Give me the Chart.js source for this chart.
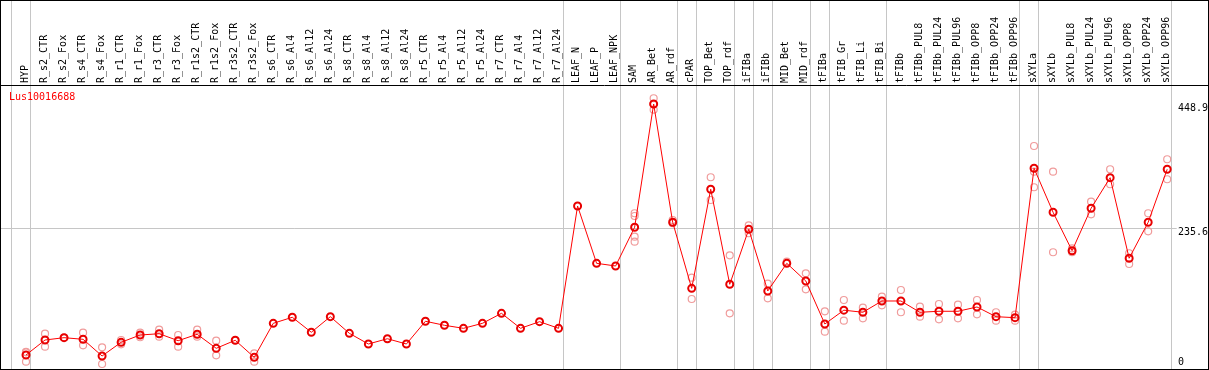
<!DOCTYPE html>
<html>
<head>
<meta charset="utf-8">
<script src="https://cdn.jsdelivr.net/npm/chart.js@4"></script>
<style>
  html, body { margin: 0; padding: 0; background: #fff; }
  canvas { display: block; }
</style>
</head>
<body>
<canvas id="geneChart" width="1209" height="370"></canvas>
<script>
const geneName = "Lus10016688";

const samples = [
  "HYP", "R_s2_CTR", "R_s2_Fox", "R_s4_CTR", "R_s4_Fox", "R_r1_CTR", "R_r1_Fox",
  "R_r3_CTR", "R_r3_Fox", "R_r1s2_CTR", "R_r1s2_Fox", "R_r3s2_CTR", "R_r3s2_Fox",
  "R_s6_CTR", "R_s6_Al4", "R_s6_Al12", "R_s6_Al24", "R_s8_CTR", "R_s8_Al4",
  "R_s8_Al12", "R_s8_Al24", "R_r5_CTR", "R_r5_Al4", "R_r5_Al12", "R_r5_Al24",
  "R_r7_CTR", "R_r7_Al4", "R_r7_Al12", "R_r7_Al24", "LEAF_N", "LEAF_P", "LEAF_NPK",
  "SAM", "AR_Bet", "AR_rdf", "cPAR", "TOP_Bet", "TOP_rdf", "iFIBa", "iFIBb",
  "MID_Bet", "MID_rdf", "tFIBa", "tFIB_Gr", "tFIB_Li", "tFIB_Bi", "tFIBb",
  "tFIBb_PUL8", "tFIBb_PUL24", "tFIBb_PUL96", "tFIBb_OPP8", "tFIBb_OPP24", "tFIBb_OPP96",
  "sXYLa", "sXYLb", "sXYLb_PUL8", "sXYLb_PUL24", "sXYLb_PUL96", "sXYLb_OPP8",
  "sXYLb_OPP24", "sXYLb_OPP96"
];

// mean expression per sample
const means = [
  17.2, 43.0, 47.0, 44.2, 15.5, 39.0, 51.6,
  53.8, 41.8, 52.8, 28.7, 42.5, 13.2,
  71.7, 82.1, 56.3, 83.1, 54.5, 36.1,
  45.2, 36.1, 75.2, 68.3, 63.1, 71.7,
  88.9, 63.1, 74.5, 63.1, 273.5, 174.9, 170.3,
  236.9, 448.9, 245.5, 131.9, 302.3, 138.8, 233.4, 127.3,
  174.9, 144.5, 70.5, 94.3, 90.7, 110.1, 110.1,
  90.7, 92.4, 92.4, 99.8, 83.1, 81.4,
  338.4, 262.7, 196.6, 269.6, 322.2, 183.6,
  245.5, 336.7
];

// individual replicates per sample
const replicates = [
  [21.8, 22.5, 5.7], [53.8, 31.5], [47.0], [55.6, 33.9], [30.4, 1.7], [35.6, 43.0], [55.6, 47.7],
  [60.7, 48.7], [51.6, 31.5], [60.7, 48.7], [41.8, 16.7], [42.5], [20.1, 5.7],
  [], [], [], [], [], [],
  [], [], [], [], [], [],
  [], [], [], [], [], [], [],
  [261.0, 256.3, 220.7, 212.1], [458.8, 448.7, 439.2], [249.4, 243.8], [150.2, 113.5], [322.9, 283.8], [188.7, 88.9], [240.3, 226.6], [139.9, 114.7],
  [177.7], [157.7, 130.2], [92.4, 57.3], [111.8, 76.2], [98.6, 80.3], [117.5, 102.7], [129.0, 90.7],
  [100.3, 83.1], [104.9, 78.6], [103.7, 80.3], [111.8, 87.2], [90.7, 76.2], [86.5, 76.2],
  [376.7, 332.5, 305.7], [332.5, 193.9], [200.7, 193.9], [280.9, 259.2], [336.7, 310.9], [192.2, 173.7],
  [261.0, 230.0], [353.9, 319.5]
];

// sample index after which a group separator is drawn (-1 = before first)
const groupEnds = [-1, 0, 28, 31, 34, 35, 37, 38, 39, 41, 42, 45, 52, 53, 60];

const yTicks = [0, 235.6, 448.9];
const yTickText = ["0", "235.6", "448.9"];

const repPoints = [];
replicates.forEach((reps, i) => {
  reps.forEach((v) => repPoints.push({ x: samples[i], y: v }));
});

const FONT = "10px 'DejaVu Sans Mono', monospace";

const decorPlugin = {
  id: "decor",
  beforeDatasetsDraw(chart) {
    const ctx = chart.ctx;
    const xs = chart.scales.x;
    const ys = chart.scales.y;
    const H = chart.height;
    ctx.save();
    ctx.lineWidth = 1;
    ctx.strokeStyle = "#c6c6c6";
    groupEnds.forEach((i) => {
      const px = Math.round(xs.getPixelForValue(i) + 4) + 0.5;
      ctx.beginPath();
      ctx.moveTo(px, 0);
      ctx.lineTo(px, H);
      ctx.stroke();
    });
    const gy = Math.round(ys.getPixelForValue(yTicks[1])) + 0.5;
    ctx.beginPath();
    ctx.moveTo(0, gy);
    ctx.lineTo(chart.chartArea.right, gy);
    ctx.stroke();
    ctx.restore();
  },
  afterDraw(chart) {
    const ctx = chart.ctx;
    const ys = chart.scales.y;
    const W = chart.width;
    const H = chart.height;
    ctx.save();
    ctx.strokeStyle = "#000";
    ctx.lineWidth = 1;
    ctx.beginPath();
    ctx.moveTo(0, 85.5);
    ctx.lineTo(W, 85.5);
    ctx.stroke();
    ctx.strokeRect(0.5, 0.5, W - 1, H - 1);

    ctx.font = FONT;
    ctx.textBaseline = "middle";
    ctx.textAlign = "left";
    ctx.fillStyle = "#000";
    yTicks.forEach((v, k) => {
      const off = k === 0 ? -3 : 4;
      ctx.fillText(yTickText[k], 1178, ys.getPixelForValue(v) + off);
    });

    ctx.fillStyle = "#ff0000";
    ctx.fillText(geneName, 9, 97);
    ctx.restore();
  }
};

new Chart(document.getElementById("geneChart"), {
  data: {
    labels: samples,
    datasets: [
      {
        type: "line",
        data: means,
        borderColor: "#ff0000",
        borderWidth: 1,
        pointRadius: 3.5,
        pointBorderWidth: 2,
        pointBorderColor: "#e80000",
        pointBackgroundColor: "rgba(0,0,0,0)",
        tension: 0,
        order: 0
      },
      {
        type: "scatter",
        data: repPoints,
        pointRadius: 3.5,
        borderWidth: 1.2,
        borderColor: "#f09c9c",
        backgroundColor: "rgba(0,0,0,0)",
        order: 1
      }
    ]
  },
  options: {
    responsive: false,
    animation: false,
    devicePixelRatio: 1,
    layout: { autoPadding: false, padding: { left: 16.5, right: 32.3, top: 0, bottom: 0 } },
    plugins: { legend: { display: false }, tooltip: { enabled: false } },
    scales: {
      x: {
        type: "category",
        position: "top",
        offset: true,
        grid: { display: false, drawTicks: false },
        border: { display: false },
        ticks: {
          autoSkip: false,
          minRotation: 90,
          maxRotation: 90,
          padding: 2,
          labelOffset: 11,
          color: "#000",
          font: { family: "'DejaVu Sans Mono', monospace", size: 10 }
        },
        afterFit: (scale) => { scale.height = 85; }
      },
      y: {
        type: "linear",
        display: false,
        min: -8.6,
        max: 481.6
      }
    }
  },
  plugins: [decorPlugin]
});
</script>
</body>
</html>
